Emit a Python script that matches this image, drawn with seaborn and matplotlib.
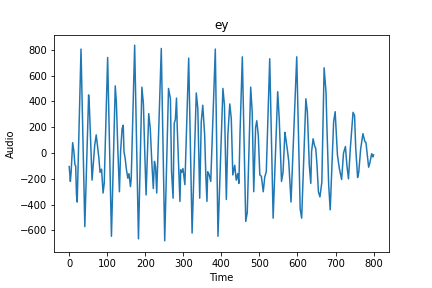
import matplotlib
matplotlib.use("Agg")
import matplotlib.pyplot as plt
import seaborn as sns
import pandas as pd

time = [0, 3, 5, 9, 12, 15, 17, 19, 21, 31, 41, 51, 53, 60, 64, 67, 71, 74, 78, 81,
        85, 89, 92, 101, 111, 121, 124, 128, 132, 135, 139, 142, 144, 147, 150, 154,
        157, 161, 163, 172, 182, 191, 195, 198, 202, 206, 209, 213, 217, 221, 224,
        227, 230, 242, 251, 261, 266, 269, 273, 276, 279, 282, 284, 288, 291, 293,
        296, 299, 304, 314, 323, 334, 338, 343, 347, 351, 356, 359, 362, 364, 367,
        372, 384, 391, 404, 408, 413, 417, 422, 426, 430, 435, 439, 443, 446, 449,
        455, 464, 468, 477, 481, 485, 490, 493, 497, 501, 505, 510, 514, 518, 527,
        536, 548, 552, 558, 562, 567, 569, 574, 577, 583, 598, 607, 611, 622, 626,
        631, 635, 637, 641, 645, 648, 651, 655, 659, 664, 670, 675, 677, 682, 686,
        695, 699, 705, 710, 716, 721, 726, 730, 734, 739, 746, 750, 753, 758, 761,
        766, 772, 777, 780, 787, 790, 795, 798, 800]
audio = [-105, -220, -150, 80, 20, -90, -100, -320, -380, 805, -570, 450, 360, -210,
         -55, 60, 140, 60, -40, -150, -125, -310, -235, 740, -645, 520, 390, 10,
         -300, 10, 190, 215, 10, -40, -120, -195, -160, -260, -195, 835, -665, 510,
         380, 60, -325, 35, 305, 190, -65, -275, -65, -110, -310, 810, -680, 500,
         420, -145, -350, 230, 260, 425, 190, -120, -375, -130, -150, -120, -245,
         735, -620, 465, 345, -350, 240, 370, 140, -170, -375, -145, -160, -220,
         805, -645, 500, 370, -360, 140, 380, 265, -170, -95, -210, -160, -235, 160,
         745, -530, -460, 510, 315, -300, 200, 250, 135, -170, -180, -300, -185,
         -145, 730, -505, 475, 265, -220, -150, 160, 120, 10, -65, -380, 745, -430,
         -505, 420, 315, -93, -235, 10, 110, 55, 35, -80, -300, -340, -225, 660,
         470, 240, -248, -440, 242, 320, -15, -120, -205, 0, 50, -100, -200, 40,
         315, 290, 40, -190, -150, 30, 150, 90, 80, -110, -80, -5, -30, -15]

df = pd.DataFrame({"Time": time, "Audio": audio})

fig, ax = plt.subplots(figsize=(6, 4), dpi=72)
fig.subplots_adjust(left=0.125, right=0.9, top=0.878, bottom=0.124)
sns.lineplot(data=df, x="Time", y="Audio", ax=ax, color="#1f77b4", linewidth=1.5)
ax.set_title("ey")
ax.set_xlabel("Time")
ax.set_ylabel("Audio")
ax.set_ylim(-769, 913)
fig.savefig("out.png", dpi=72)
